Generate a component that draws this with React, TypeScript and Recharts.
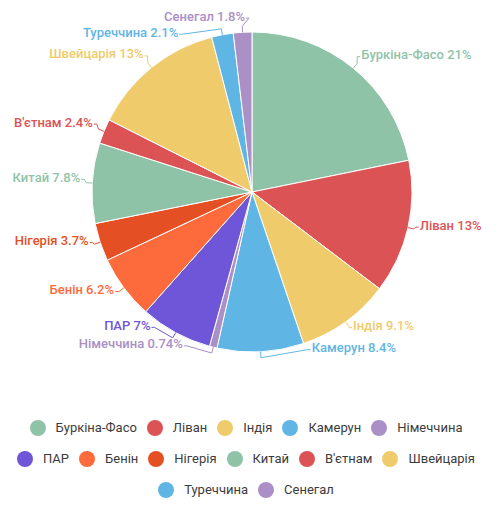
import { PieChart, Pie, Cell, Legend } from "recharts";

const countries = [
  "Буркіна-Фасо",
  "Ліван",
  "Індія",
  "Камерун",
  "Німеччина",
  "ПАР",
  "Бенін",
  "Нігерія",
  "Китай",
  "В'єтнам",
  "Швейцарія",
  "Туреччина",
  "Сенегал",
];
const shares = [21, 13, 9.1, 8.4, 0.74, 7, 6.2, 3.7, 7.8, 2.4, 13, 2.1, 1.8];
const colors = [
  "#8fc3a8",
  "#dc5356",
  "#efcb6b",
  "#5fb6e4",
  "#aa90c6",
  "#6f55d8",
  "#fd6a3b",
  "#e44f24",
  "#8fc3a8",
  "#dc5356",
  "#efcb6b",
  "#5fb6e4",
  "#aa90c6",
];

const data = countries.map((name, i) => ({ name, value: shares[i] }));

const CX = 252;
const CY = 192;
const R = 160;
// labels sit on a slightly smaller ring, lifted a little
const LR = 171;
const LDY = -5;
const RAD = Math.PI / 180;

const labelText = (i: number) => `${countries[i]} ${shares[i]}%`;

// spread labels around the pie so they don't collide
function layoutLabels() {
  const total = shares.reduce((a, b) => a + b, 0);
  let acc = 0;
  const items = shares.map((v, i) => {
    const mid = ((acc + v / 2) / total) * 360;
    acc += v;
    return { mid, a: mid, w: labelText(i).length * 7.2, right: mid < 180 };
  });
  const box = (it: (typeof items)[number]) => {
    const x = CX + LR * Math.sin(it.a * RAD);
    const y = CY + LDY - LR * Math.cos(it.a * RAD);
    const s = Math.sin(it.a * RAD);
    let x0 = it.right ? x : x - it.w;
    let pad = 5;
    if (Math.abs(s) < 0.42) {
      x0 = x - it.w / 2;
      pad = 14;
    }
    return { x0: x0 - pad, x1: x0 + it.w + pad, y0: y - 9, y1: y + 9 };
  };
  const clamp = (it: (typeof items)[number]) => {
    if (it.right) it.a = Math.min(178, Math.max(2, it.a));
    else it.a = Math.min(358, Math.max(182, it.a));
  };
  for (let iter = 0; iter < 400; iter++) {
    let moved = false;
    for (let i = 0; i < items.length; i++) {
      const p = items[i];
      const q = items[(i + 1) % items.length];
      const b1 = box(p);
      const b2 = box(q);
      if (b1.x0 < b2.x1 && b2.x0 < b1.x1 && b1.y0 < b2.y1 && b2.y0 < b1.y1) {
        p.a -= 0.5;
        q.a += 0.5;
        clamp(p);
        clamp(q);
        moved = true;
      }
    }
    if (!moved) break;
  }
  return items;
}

const labelLayout = layoutLabels();

const renderLabel = (props: any) => {
  const { cx, cy, midAngle, outerRadius, index } = props;
  const it = labelLayout[index];
  const ex = cx + outerRadius * Math.cos(-midAngle * RAD);
  const ey = cy + outerRadius * Math.sin(-midAngle * RAD);
  const bx = cx + (outerRadius + 6) * Math.cos(-midAngle * RAD);
  const by = cy + (outerRadius + 6) * Math.sin(-midAngle * RAD);
  const lx = cx + LR * Math.sin(it.a * RAD);
  const ly = cy + LDY - LR * Math.cos(it.a * RAD);
  const dir = it.right ? 1 : -1;
  return (
    <g>
      <path
        d={`M${ex},${ey}L${bx},${by}L${lx - dir * 3},${ly + 2}L${lx},${ly + 2}`}
        stroke={colors[index]}
        fill="none"
        strokeWidth={1}
      />
      <text
        x={lx + dir * 1}
        y={ly}
        textAnchor={it.right ? "start" : "end"}
        dominantBaseline="central"
        fill={colors[index]}
        fontSize={13}
        fontWeight={500}
      >
        {labelText(index)}
      </text>
    </g>
  );
};

const renderLegend = () => (
  <div
    style={{
      display: "flex",
      flexWrap: "wrap",
      justifyContent: "center",
      columnGap: 10,
    }}
  >
    {countries.map((name, i) => (
      <div
        key={name}
        style={{ display: "flex", alignItems: "center", height: 31 }}
      >
        <span
          style={{
            width: 16,
            height: 16,
            borderRadius: 8,
            background: colors[i],
            marginRight: 10,
          }}
        />
        <span style={{ fontSize: 13, color: "#3c3c3c" }}>{name}</span>
      </div>
    ))}
  </div>
);

export default function App() {
  return (
    <div
      style={{
        position: "absolute",
        left: 0,
        top: 0,
        width: 497,
        height: 517,
        background: "#fff",
        fontFamily: "Roboto, sans-serif",
      }}
    >
      <PieChart
        width={497}
        height={517}
        margin={{ top: 0, right: 0, bottom: 0, left: 0 }}
      >
        <Pie
          data={data}
          dataKey="value"
          nameKey="name"
          cx={CX}
          cy={CY}
          outerRadius={R}
          startAngle={90}
          endAngle={-270}
          stroke="#fff"
          strokeWidth={1}
          labelLine={false}
          label={renderLabel}
          isAnimationActive={false}
        >
          {data.map((d, i) => (
            <Cell key={d.name} fill={colors[i]} />
          ))}
        </Pie>
        <Legend
          content={renderLegend}
          wrapperStyle={{ left: 11, top: 412, width: 470 }}
        />
      </PieChart>
    </div>
  );
}
